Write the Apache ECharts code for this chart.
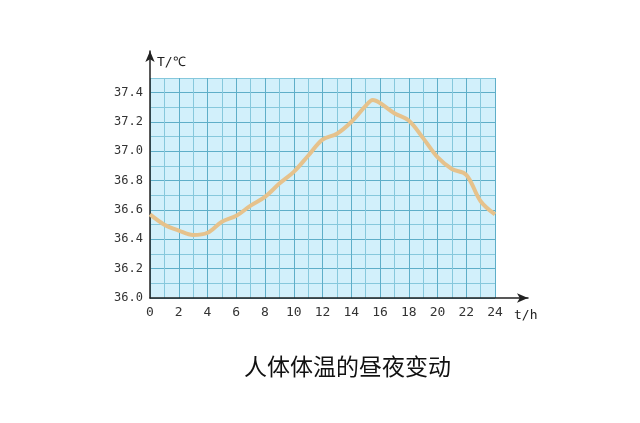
<!DOCTYPE html>
<html>
<head>
<meta charset="utf-8">
<script src="https://cdn.jsdelivr.net/npm/echarts@6/dist/echarts.min.js"></script>
<style>html,body{margin:0;padding:0;background:#fff;}#c{width:640px;height:423px;}</style>
</head>
<body>
<div id="c"></div>
<script>
var hours = [0,1,2,3,4,5,6,7,8,9,10,11,12,13,14,15,15.5,16,17,18,19,20,21,22,23,24];
var temps = [36.57,36.50,36.46,36.43,36.445,36.52,36.56,36.63,36.69,36.78,36.86,36.97,37.08,37.12,37.20,37.31,37.35,37.33,37.26,37.21,37.09,36.96,36.88,36.84,36.66,36.57];
var yTicks = ['36.0','36.2','36.4','36.6','36.8','37.0','37.2','37.4'];
var xTicks = ['0','2','4','6','8','10','12','14','16','18','20','22','24'];
var titleText = '人体体温的昼夜变动';
var yName = 'T/℃';
var xName = 't/h';

var chart = echarts.init(document.getElementById('c'));
var gridLine = ['#5eaec8', '#86c8dc'];
var monoFont = 'DejaVu Sans Mono';
chart.setOption({
  animation: false,
  title: {
    text: titleText,
    left: 239, top: 350,
    textStyle: {fontFamily: 'Noto Sans CJK SC', fontSize: 23, fontWeight: 'normal', color: '#111'}
  },
  grid: [
    {left: 150, top: 78, right: 145, bottom: 125, show: true, backgroundColor: '#d2f0fb', borderWidth: 0},
    {left: 150, top: 51, right: 112, bottom: 125, show: false}
  ],
  xAxis: [
    {
      type: 'value', gridIndex: 0, min: 0, max: 24, interval: 1,
      axisLine: {show: false}, axisTick: {show: false},
      axisLabel: {
        margin: 8, fontFamily: monoFont, fontSize: 13, color: '#333',
        formatter: function (v) { return xTicks.indexOf(String(v)) >= 0 ? String(v) : ''; }
      },
      splitLine: {show: true, lineStyle: {color: gridLine, width: 1}}
    },
    {
      type: 'value', gridIndex: 1, min: 0, max: 1,
      axisLine: {show: true, symbol: ['none', 'arrow'], symbolSize: [7, 11], lineStyle: {color: '#222', width: 1.5}},
      axisTick: {show: false}, axisLabel: {show: false}, splitLine: {show: false},
      name: xName, nameLocation: 'end', nameGap: -14,
      nameTextStyle: {fontFamily: monoFont, fontSize: 13, color: '#222', verticalAlign: 'top', align: 'left', padding: [11, 0, 0, 0]}
    }
  ],
  yAxis: [
    {
      type: 'value', gridIndex: 0, min: 36, max: 37.5, interval: 0.1,
      axisLine: {show: false}, axisTick: {show: false},
      axisLabel: {
        margin: 7, fontFamily: monoFont, fontSize: 12, color: '#333',
        formatter: function (v) { var s = v.toFixed(1); return yTicks.indexOf(s) >= 0 ? s : ''; }
      },
      splitLine: {show: true, lineStyle: {color: gridLine, width: 1}}
    },
    {
      type: 'value', gridIndex: 1, min: 0, max: 1,
      axisLine: {show: true, symbol: ['none', 'arrow'], symbolSize: [7, 11], lineStyle: {color: '#222', width: 1.5}},
      axisTick: {show: false}, axisLabel: {show: false}, splitLine: {show: false},
      name: yName, nameLocation: 'end', nameGap: -12,
      nameTextStyle: {fontFamily: monoFont, fontSize: 13, color: '#222', align: 'left', verticalAlign: 'middle', padding: [0, 0, 0, 7]}
    }
  ],
  series: [{
    type: 'line', xAxisIndex: 0, yAxisIndex: 0,
    data: hours.map(function (h, i) { return [h, temps[i]]; }),
    smooth: 0.35, showSymbol: false,
    lineStyle: {color: '#e6c28c', width: 4}
  }]
});
</script>
</body>
</html>
